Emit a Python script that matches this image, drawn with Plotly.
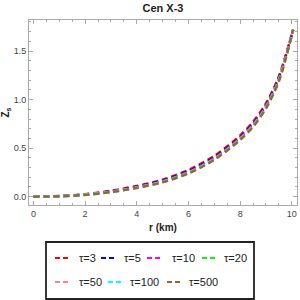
import plotly.graph_objects as go

# radial coordinate (km)
r_km = [0, 1, 2, 3, 4, 5, 6, 7, 8, 8.5, 9, 9.5, 10.05]

# surface-redshift-like profiles Z_s for each tau
z_tau3 = [0, 0.006, 0.025, 0.060, 0.110, 0.175, 0.275, 0.420, 0.630, 0.770, 0.960, 1.240, 1.72]
z_tau5 = [0, 0.005, 0.022, 0.055, 0.102, 0.165, 0.262, 0.405, 0.612, 0.752, 0.942, 1.222, 1.72]
z_tau10 = [0, 0.005, 0.021, 0.052, 0.098, 0.159, 0.254, 0.396, 0.603, 0.743, 0.932, 1.212, 1.72]
z_tau20 = [0, 0.0045, 0.020, 0.050, 0.095, 0.155, 0.249, 0.390, 0.597, 0.736, 0.925, 1.205, 1.72]
z_tau50 = [0, 0.0042, 0.019, 0.049, 0.093, 0.152, 0.245, 0.386, 0.592, 0.730, 0.919, 1.199, 1.72]
z_tau100 = [0, 0.0041, 0.0185, 0.048, 0.092, 0.150, 0.243, 0.383, 0.589, 0.726, 0.915, 1.195, 1.72]
z_tau500 = [0, 0.004, 0.018, 0.047, 0.090, 0.148, 0.240, 0.380, 0.585, 0.720, 0.910, 1.190, 1.72]

labels = ["τ=3", "τ=5", "τ=10", "τ=20", "τ=50", "τ=100", "τ=500"]
series = [z_tau3, z_tau5, z_tau10, z_tau20, z_tau50, z_tau100, z_tau500]
colors = ["#ff0000", "#0000ff", "#ff00ff", "#00ff00", "#ff8080", "#00ffff", "#996633"]

x_ticks = [0, 2, 4, 6, 8, 10]
y_ticks = [0.0, 0.5, 1.0, 1.5]
y_tick_text = ["0.0", "0.5", "1.0", "1.5"]

fig = go.Figure()
for lab, ys, col in zip(labels, series, colors):
    fig.add_trace(go.Scatter(
        x=r_km, y=ys, mode="lines", name=lab, showlegend=False,
        line=dict(color=col, width=2.5, dash="6px,4px", shape="spline", smoothing=0.8),
    ))

# plot area geometry (px) for the manual legend
L, R, T, B = 29, 297, 20, 205
W, H = R - L, B - T
def px(x):
    return (x - L) / W
def py(y):
    return (B - y) / H

# legend layout (pixel positions of sample line and label)
leg_pos = [
    (55, 69, 77, 258), (101, 115, 122, 258), (147, 162, 170, 258), (202, 217, 222, 258),
    (55, 69, 77, 282), (108, 123, 128, 282), (167, 182, 187, 282),
]
shapes = [dict(type="rect", xref="paper", yref="paper", x0=px(46), x1=px(254),
               y0=py(242), y1=py(299), line=dict(color="#222222", width=1.8))]
annotations = []
for (x0, x1, xt, yy), lab, col in zip(leg_pos, labels, colors):
    shapes.append(dict(type="line", xref="paper", yref="paper", x0=px(x0), x1=px(x1),
                       y0=py(yy), y1=py(yy), line=dict(color=col, width=2, dash="5px,3px")))
    annotations.append(dict(xref="paper", yref="paper", x=px(xt), y=py(yy), text=lab,
                            showarrow=False, xanchor="left", yanchor="middle",
                            font=dict(size=11, color="#222222")))

axis_common = dict(
    showgrid=False, zeroline=False, showline=True, linecolor="#aaaaaa", linewidth=1,
    mirror="allticks", ticks="inside", ticklen=4, tickcolor="#aaaaaa",
    tickfont=dict(size=9, color="#444444"), automargin=False,
)

fig.update_layout(
    width=300, height=300,
    margin=dict(l=L, r=300 - R, t=T, b=300 - B, autoexpand=False),
    paper_bgcolor="white", plot_bgcolor="white",
    font=dict(family="Liberation Sans, Arial, sans-serif"),
    title=dict(text="<b>Cen X-3</b>", x=px(163), xref="paper", xanchor="center",
               y=1 - 8 / 300, yref="container", yanchor="middle",
               font=dict(size=11, color="#222222")),
    xaxis=dict(range=[-0.17, 10.2], tickvals=x_ticks,
               minor=dict(ticks="inside", ticklen=2, dtick=0.5, tickcolor="#aaaaaa"),
               title=dict(text="<b>r (km)</b>", font=dict(size=10, color="#222222"), standoff=6),
               **axis_common),
    yaxis=dict(range=[-0.086, 1.82], tickvals=y_ticks, ticktext=y_tick_text,
               minor=dict(ticks="inside", ticklen=2, dtick=0.1, tickcolor="#aaaaaa"),
               title=dict(text="<b>Z<sub>s</sub></b>", font=dict(size=10, color="#222222"), standoff=4),
               **axis_common),
    shapes=shapes, annotations=annotations,
)

fig.write_html("out.html", config={"displayModeBar": False},
               post_script="document.body.style.margin='0';document.body.style.overflow='hidden';")
